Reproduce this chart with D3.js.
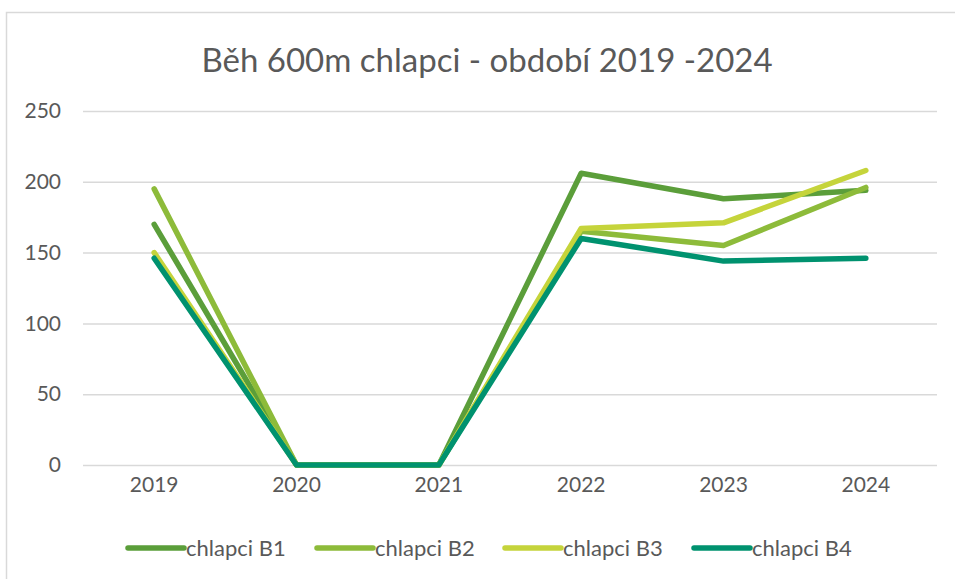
<!DOCTYPE html>
<html>
<head>
<meta charset="utf-8">
<script src="https://cdn.jsdelivr.net/npm/d3@7"></script>
<style>
  body { margin: 0; background: #fff; }
  text { font-family: Lato, "Open Sans", sans-serif; fill: #595959; }
</style>
</head>
<body>
<svg id="chart"></svg>
<script>
const years = ["2019", "2020", "2021", "2022", "2023", "2024"];
const b1 = [170, 0, 0, 206, 188, 194];
const b2 = [195, 0, 0, 165, 155, 196];
const b3 = [150, 0, 0, 167, 171, 208];
const b4 = [146, 0, 0, 160, 144, 146];
const seriesNames = ["chlapci B1", "chlapci B2", "chlapci B3", "chlapci B4"];
const colors = ["#5B9E3A", "#8DBB3A", "#C5D43B", "#00926F"];
const yTicks = [0, 50, 100, 150, 200, 250];

const series = [b1, b2, b3, b4].map((vals, i) => ({ name: seriesNames[i], color: colors[i], values: vals }));

const svgWidth = 955, svgHeight = 579;
const margin = { top: 111, right: 18, bottom: 114, left: 83 };
const width = svgWidth - margin.left - margin.right;
const height = svgHeight - margin.top - margin.bottom;

const svg = d3.select("#chart").attr("width", svgWidth).attr("height", svgHeight);

// chart frame
svg.append("rect")
  .attr("x", 6.5).attr("y", 12.5)
  .attr("width", 1000).attr("height", 1000)
  .attr("fill", "none").attr("stroke", "#d9d9d9").attr("stroke-width", 1.5);

svg.append("text")
  .attr("x", 487).attr("y", 72)
  .attr("text-anchor", "middle")
  .style("font-size", "33px")
  .text("Běh 600m chlapci - období 2019 -2024");

const g = svg.append("g").attr("transform", `translate(${margin.left},${margin.top})`);

const x = d3.scaleBand().domain(years).range([0, width]);
const y = d3.scaleLinear().domain([0, 250]).range([height, 0]);

// gridlines + y labels
const yAxis = g.append("g")
  .call(d3.axisLeft(y).tickValues(yTicks).tickSize(-width).tickPadding(22));
yAxis.select(".domain").remove();
yAxis.selectAll("line").attr("stroke", "#d9d9d9").attr("stroke-width", 1.5);
yAxis.selectAll("text").style("font-size", "21px").attr("fill", "#595959");

const xAxis = g.append("g")
  .attr("transform", `translate(0,${height})`)
  .call(d3.axisBottom(x).tickSize(0).tickPadding(12));
xAxis.select(".domain").remove();
xAxis.selectAll("text").style("font-size", "21px").attr("fill", "#595959");

const line = d3.line()
  .x((d, i) => x(years[i]) + x.bandwidth() / 2)
  .y(d => y(d));

series.forEach(s => {
  g.append("path")
    .datum(s.values)
    .attr("fill", "none")
    .attr("stroke", s.color)
    .attr("stroke-width", 5.5)
    .attr("stroke-linejoin", "round")
    .attr("stroke-linecap", "round")
    .attr("d", line);
});

// legend
const legendX = [128, 317, 505, 694];
const legend = svg.append("g").attr("transform", "translate(0,548)");
series.forEach((s, i) => {
  const item = legend.append("g").attr("transform", `translate(${legendX[i]},0)`);
  item.append("line")
    .attr("x1", 0).attr("x2", 56)
    .attr("stroke", s.color).attr("stroke-width", 5.5)
    .attr("stroke-linecap", "round");
  item.append("text")
    .attr("x", 58).attr("dy", "0.35em")
    .style("font-size", "22px")
    .text(s.name);
});
</script>
</body>
</html>
